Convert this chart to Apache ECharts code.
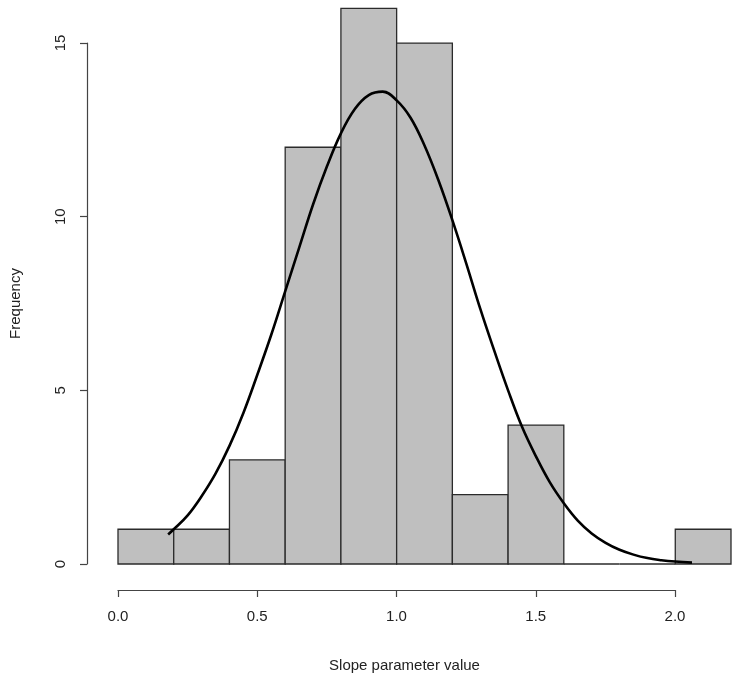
<!DOCTYPE html>
<html>
<head>
<meta charset="utf-8">
<script src="https://cdn.jsdelivr.net/npm/echarts@6/dist/echarts.min.js"></script>
<style>
  html, body { margin: 0; padding: 0; background: #fff; }
  #chart { width: 739px; height: 692px; }
</style>
</head>
<body>
<div id="chart"></div>
<script>
// histogram bins (left edges), width 0.2
var binStarts = [0.0, 0.2, 0.4, 0.6, 0.8, 1.0, 1.2, 1.4, 1.6, 1.8, 2.0];
var binWidth = 0.2;
var counts = [1, 1, 3, 12, 16, 15, 2, 4, 0, 0, 1];

// fitted density curve
var curveX = [0.18, 0.20, 0.25, 0.30, 0.35, 0.40, 0.45, 0.50, 0.55, 0.60, 0.65, 0.70, 0.75, 0.80, 0.85, 0.90, 0.95,
              1.00, 1.05, 1.10, 1.15, 1.20, 1.25, 1.30, 1.35, 1.40, 1.45, 1.50, 1.55, 1.60, 1.65, 1.70,
              1.75, 1.80, 1.85, 1.90, 1.95, 2.00, 2.06];
var curveY = [0.85, 1.0, 1.4, 1.95, 2.6, 3.4, 4.35, 5.45, 6.6, 7.85, 9.1, 10.35, 11.45, 12.4, 13.1, 13.5, 13.6,
              13.35, 12.85, 12.05, 11.05, 9.9, 8.65, 7.35, 6.15, 5.0, 3.95, 3.1, 2.35, 1.75, 1.25, 0.88,
              0.61, 0.41, 0.27, 0.17, 0.11, 0.07, 0.04];

var xTicks = [0.0, 0.5, 1.0, 1.5, 2.0];
var yTicks = [0, 5, 10, 15];

var axisColor = '#444';
var textColor = '#222';
var font = 'Liberation Sans, Arial, sans-serif';

var chart = echarts.init(document.getElementById('chart'));

var barData = binStarts.map(function (s, i) { return [s, s + binWidth, counts[i]]; });
var curveData = curveX.map(function (x, i) { return [x, curveY[i]]; });

chart.setOption({
    backgroundColor: '#fff',
    animation: false,
    grid: [
        { left: 118, right: 8, top: 8.3, bottom: 128 },   // plot region
        { left: 118, right: 64, top: 43, bottom: 128 }    // R-style axes
    ],
    xAxis: [
        { gridIndex: 0, type: 'value', min: 0, max: 2.2, show: false },
        {
            gridIndex: 1, type: 'value', min: xTicks[0], max: xTicks[xTicks.length - 1], interval: 0.5,
            offset: 26,
            axisLine: { show: true, onZero: false, lineStyle: { color: axisColor, width: 1.2 } },
            axisTick: { show: true, length: 7, lineStyle: { color: axisColor, width: 1.2 } },
            axisLabel: {
                color: textColor, fontSize: 15, fontFamily: font, margin: 19,
                formatter: function (v) { return v.toFixed(1); }
            },
            splitLine: { show: false },
            name: 'Slope parameter value',
            nameLocation: 'middle',
            nameGap: 68,
            nameTextStyle: { color: textColor, fontSize: 15, fontFamily: font, padding: [0, 0, 0, 16] }
        }
    ],
    yAxis: [
        { gridIndex: 0, type: 'value', min: 0, max: 16, show: false },
        {
            gridIndex: 1, type: 'value', min: yTicks[0], max: yTicks[yTicks.length - 1], interval: 5,
            offset: 31,
            axisLine: { show: true, onZero: false, lineStyle: { color: axisColor, width: 1.2 } },
            axisTick: { show: true, length: 7, lineStyle: { color: axisColor, width: 1.2 } },
            axisLabel: { color: textColor, fontSize: 15, fontFamily: font, rotate: 90, margin: 19 },
            splitLine: { show: false },
            name: 'Frequency',
            nameLocation: 'middle',
            nameRotate: 90,
            nameGap: 64,
            nameTextStyle: { color: textColor, fontSize: 15, fontFamily: font }
        }
    ],
    series: [
        {
            name: 'Frequency',
            type: 'custom',
            xAxisIndex: 0,
            yAxisIndex: 0,
            data: barData,
            renderItem: function (params, api) {
                var p0 = api.coord([api.value(0), api.value(2)]);
                var p1 = api.coord([api.value(1), 0]);
                return {
                    type: 'rect',
                    shape: { x: p0[0], y: p0[1], width: p1[0] - p0[0], height: p1[1] - p0[1] },
                    style: { fill: '#bfbfbf', stroke: '#2b2b2b', lineWidth: 1.3 }
                };
            }
        },
        {
            name: 'Normal fit',
            type: 'line',
            xAxisIndex: 0,
            yAxisIndex: 0,
            data: curveData,
            smooth: 0.4,
            symbol: 'none',
            lineStyle: { color: '#000', width: 2.6 },
            z: 5
        }
    ]
});
</script>
</body>
</html>
